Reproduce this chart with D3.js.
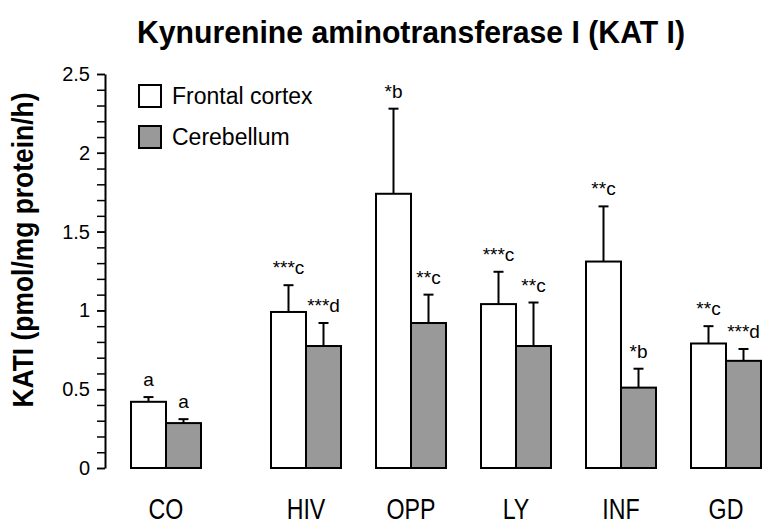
<!DOCTYPE html>
<html>
<head>
<meta charset="utf-8">
<script src="https://cdn.jsdelivr.net/npm/d3@7"></script>
<style>
  body { margin: 0; background: #fff; }
  text { font-family: "Liberation Sans", Arial, sans-serif; fill: #000; }
</style>
</head>
<body>
<svg id="chart" width="770" height="530"></svg>
<script>
// values (mean and SEM, pmol/mg protein/h)
const groups = ["CO", "HIV", "OPP", "LY", "INF", "GD"];
const frontal = [0.42, 0.99, 1.74, 1.04, 1.31, 0.79];
const frontalErr = [0.03, 0.17, 0.54, 0.205, 0.35, 0.11];
const cerebellum = [0.285, 0.774, 0.92, 0.774, 0.51, 0.68];
const cerebellumErr = [0.025, 0.146, 0.18, 0.276, 0.12, 0.075];
const frontalSig = ["a", "***c", "*b", "***c", "**c", "**c"];
const cerebellumSig = ["a", "***d", "**c", "**c", "*b", "***d"];
const yMajor = [0, 0.5, 1, 1.5, 2, 2.5];

const series = [
	{"name": "Frontal cortex", "values": frontal, "err": frontalErr, "sig": frontalSig, "fill": "#ffffff"},
	{"name": "Cerebellum", "values": cerebellum, "err": cerebellumErr, "sig": cerebellumSig, "fill": "#999999"}
];

let margin = {"left": 105, "top": 74, "bottom": 62, "right": 9};
let width = 770;
let height = 530;
let controlShift = -35; // CO sits apart from the patient groups

let svg = d3.select("#chart");

// the original figure's lettering is narrow, squeeze text horizontally
function condense(sel, factor, target){
	sel.each(function(){
		let len = target || this.getComputedTextLength() * factor;
		d3.select(this).attr("textLength", len).attr("lengthAdjust", "spacingAndGlyphs");
	});
}

let x = d3.scaleBand()
	.domain(groups)
	.range([166, width - margin.right])
	.paddingInner(1/3)
	.paddingOuter(0);

let sub = d3.scaleBand()
	.domain(series.map(s => s.name))
	.range([0, x.bandwidth()]);

let y = d3.scaleLinear()
	.domain([0, 2.5])
	.range([height - margin.bottom, margin.top]);

function groupX(g){
	return x(g) + (g === "CO" ? controlShift : 0);
}

// y axis: minor ticks then major ticks with labels
svg.append("g")
	.attr("transform", `translate(${margin.left},0)`)
	.call(d3.axisLeft(y).tickValues(d3.range(0, 26).map(i => i / 10)).tickSize(8).tickSizeOuter(0).tickFormat(""))
	.call(g => g.selectAll("line").attr("stroke-width", 1.5))
	.call(g => g.select(".domain").attr("stroke-width", 2));

svg.append("g")
	.attr("transform", `translate(${margin.left},0)`)
	.call(d3.axisLeft(y).tickValues(yMajor).tickSize(8).tickSizeOuter(0).tickPadding(7).tickFormat(d3.format("")))
	.call(g => g.select(".domain").remove())
	.call(g => g.selectAll("line").attr("stroke-width", 1.5))
	.call(g => g.selectAll("text").attr("font-size", 20).attr("font-family", "Liberation Sans, Arial, sans-serif").attr("fill", "#000"));

// bars
let bars = svg.append("g");
series.forEach(function(s){
	let g = bars.append("g").attr("class", "series");
	let rows = groups.map((e, i) => ({"group": e, "v": s.values[i], "err": s.err[i], "sig": s.sig[i]}));

	g.selectAll("rect")
		.data(rows)
		.join("rect")
		.attr("x", d => groupX(d.group) + sub(s.name))
		.attr("y", d => y(d.v))
		.attr("width", sub.bandwidth())
		.attr("height", d => y(0) - y(d.v))
		.attr("fill", s.fill)
		.attr("stroke", "#000")
		.attr("stroke-width", 2);

	let cx = d => groupX(d.group) + sub(s.name) + sub.bandwidth() / 2;

	g.selectAll("line.err")
		.data(rows)
		.join("line")
		.attr("class", "err")
		.attr("x1", cx).attr("x2", cx)
		.attr("y1", d => y(d.v)).attr("y2", d => y(d.v + d.err))
		.attr("stroke", "#000").attr("stroke-width", 2);

	g.selectAll("line.cap")
		.data(rows)
		.join("line")
		.attr("class", "cap")
		.attr("x1", d => cx(d) - 5).attr("x2", d => cx(d) + 5)
		.attr("y1", d => y(d.v + d.err)).attr("y2", d => y(d.v + d.err))
		.attr("stroke", "#000").attr("stroke-width", 2);

	g.selectAll("text")
		.data(rows)
		.join("text")
		.attr("x", cx)
		.attr("y", d => y(d.v + d.err) - 11)
		.attr("text-anchor", "middle")
		.attr("font-size", 19)
		.text(d => d.sig);
});

// category labels
svg.append("g").selectAll("text")
	.data(groups)
	.join("text")
	.attr("x", d => groupX(d) + x.bandwidth() / 2)
	.attr("y", 519)
	.attr("text-anchor", "middle")
	.attr("font-size", 29)
	.text(d => d)
	.call(condense, 0.8);

// legend
let legend = svg.append("g").attr("transform", "translate(139,85)");
let item = legend.selectAll("g")
	.data(series)
	.join("g")
	.attr("transform", (d, i) => `translate(0,${i * 41})`);
item.append("rect")
	.attr("width", 22).attr("height", 22)
	.attr("fill", d => d.fill)
	.attr("stroke", "#000").attr("stroke-width", 2);
item.append("text")
	.attr("x", 33).attr("y", 11).attr("dy", "0.35em")
	.attr("font-size", 23)
	.text(d => d.name);

// titles
svg.append("text")
	.attr("x", 411).attr("y", 43)
	.attr("text-anchor", "middle")
	.attr("font-size", 32).attr("font-weight", "bold")
	.text("Kynurenine aminotransferase I (KAT I)")
	.call(condense, 1, 548);

svg.append("text")
	.attr("transform", "translate(33,250) rotate(-90)")
	.attr("text-anchor", "middle")
	.attr("font-size", 29).attr("font-weight", "bold")
	.text("KATI (pmol/mg protein/h)")
	.call(condense, 1, 315);
</script>
</body>
</html>
